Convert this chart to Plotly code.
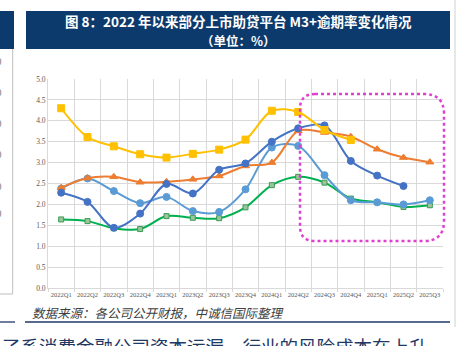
import plotly.graph_objects as go

categories = ["2022Q1", "2022Q2", "2022Q3", "2022Q4", "2023Q1", "2023Q2", "2023Q3", "2023Q4",
              "2024Q1", "2024Q2", "2024Q3", "2024Q4", "2025Q1", "2025Q2", "2025Q3"]
yellow_vals = [4.30, 3.61, 3.39, 3.20, 3.12, 3.21, 3.31, 3.55, 4.24, 4.21, 3.78, 3.54, None, None, None]
orange_vals = [2.40, 2.63, 2.66, 2.53, 2.54, 2.60, 2.68, 2.92, 3.00, 3.76, 3.72, 3.62, 3.32, 3.12, 3.01]
darkblue_vals = [2.28, 2.06, 1.44, 1.78, 2.49, 2.26, 2.83, 2.98, 3.50, 3.82, 3.89, 3.04, 2.69, 2.44, None]
lightblue_vals = [2.38, 2.62, 2.32, 2.03, 2.18, 1.84, 1.82, 2.36, 3.36, 3.40, 2.70, 2.10, 2.05, 2.00, 2.10]
green_vals = [1.64, 1.60, 1.43, 1.41, 1.72, 1.68, 1.67, 1.93, 2.46, 2.66, 2.52, 2.14, 2.05, 1.94, 1.98]
y_ticks = [0.0, 0.5, 1.0, 1.5, 2.0, 2.5, 3.0, 3.5, 4.0, 4.5, 5.0]

W, H = 464, 346
L, R, T, B = 48, 443, 79, 288


def xp(px):
    return (px - L) / (R - L)


def yp(py):
    return (B - py) / (B - T)


fig = go.Figure()

series = [
    (green_vals, "#00B050", "square", 5, "#9DC59A", "#3A9A55"),
    (lightblue_vals, "#5B9BD5", "circle", 7, "#5B9BD5", "#5B9BD5"),
    (orange_vals, "#ED7D31", "triangle-up", 7, "#ED7D31", "#ED7D31"),
    (darkblue_vals, "#4472C4", "circle", 7, "#4472C4", "#4472C4"),
    (yellow_vals, "#FFC000", "square", 7, "#FFC000", "#FFC000"),
]
for vals, col, sym, sz, mfill, mline in series:
    fig.add_trace(go.Scatter(
        x=categories, y=vals, mode="lines+markers",
        line=dict(color=col, width=2, shape="spline", smoothing=0.9),
        marker=dict(symbol=sym, size=sz, color=mfill, line=dict(color=mline, width=1)),
        connectgaps=False, showlegend=False, hoverinfo="skip"))

navy = "#0D3A6C"
shapes = []
shapes.append(dict(type="rect", xref="paper", yref="paper", x0=xp(26), x1=xp(450), y0=yp(11), y1=yp(49),
                   fillcolor=navy, line=dict(width=0), layer="below"))
shapes.append(dict(type="rect", xref="paper", yref="paper", x0=xp(-2), x1=xp(14), y0=yp(11), y1=yp(49),
                   fillcolor=navy, line=dict(width=0), layer="below"))
shapes.append(dict(type="line", xref="paper", yref="paper", x0=xp(12.7), x1=xp(12.7), y0=yp(49), y1=yp(294),
                   line=dict(color="#BFBFBF", width=1)))
shapes.append(dict(type="line", xref="paper", yref="paper", x0=xp(0), x1=xp(12.7), y0=yp(294), y1=yp(294),
                   line=dict(color="#BFBFBF", width=1)))
shapes.append(dict(type="line", xref="paper", yref="paper", x0=xp(455), x1=xp(455), y0=yp(0), y1=yp(327),
                   line=dict(color="#D0D0D0", width=1)))
shapes.append(dict(type="line", xref="paper", yref="paper", x0=xp(0), x1=xp(15), y0=yp(322), y1=yp(322),
                   line=dict(color="#1F3864", width=1.3)))
shapes.append(dict(type="line", xref="paper", yref="paper", x0=xp(25), x1=xp(450), y0=yp(322), y1=yp(322),
                   line=dict(color="#1F3864", width=1.3)))

bx0, bx1, by0, by1 = 300, 444, 94, 241
rl, rr = 15, 20


def P(x, y):
    return f"{xp(x):.5f},{yp(y):.5f}"


path = (f"M {P(bx0 + rl, by0)} L {P(bx1 - rr, by0)} Q {P(bx1, by0)} {P(bx1, by0 + rr)} "
        f"L {P(bx1, by1 - rr)} Q {P(bx1, by1)} {P(bx1 - rr, by1)} "
        f"L {P(bx0 + rl, by1)} Q {P(bx0, by1)} {P(bx0, by1 - rl)} "
        f"L {P(bx0, by0 + rl)} Q {P(bx0, by0)} {P(bx0 + rl, by0)} Z")
shapes.append(dict(type="path", xref="paper", yref="paper", path=path,
                   line=dict(color="#E040D0", width=2.5, dash="dot"), layer="above"))

annotations = [
    dict(text="<b>图 8：2022 年以来部分上市助贷平台 M3+逾期率变化情况</b>", xref="paper", yref="paper",
         x=xp(238), y=yp(21), xanchor="center", yanchor="middle", showarrow=False, borderpad=0,
         font=dict(family="Noto Sans CJK SC", size=13.5, color="white")),
    dict(text="<b>（单位：%）</b>", xref="paper", yref="paper",
         x=xp(238), y=yp(40.5), xanchor="center", yanchor="middle", showarrow=False, borderpad=0,
         font=dict(family="Noto Sans CJK SC", size=12.5, color="white")),
    dict(text="数据来源：各公司公开财报，中诚信国际整理", xref="paper", yref="paper",
         x=xp(30), y=yp(312), xanchor="left", yanchor="middle", showarrow=False,
         font=dict(family="Noto Sans CJK SC", size=12.5, color="#404040", style="italic")),
    dict(text="了系消费金融公司资本运漏，行业的风险成本在上升", xref="paper", yref="paper",
         x=xp(0), y=yp(331), xanchor="left", yanchor="top", showarrow=False,
         font=dict(family="Noto Sans CJK SC", size=18.5, color="#1F3864")),
]
for lab, py in zip(["5.0", "4.0", "3.0", "2.0", "1.0", "0.0"], [62, 92, 123, 154, 186, 214]):
    annotations.append(dict(text=lab, xref="paper", yref="paper", x=xp(4), y=yp(py),
                            xanchor="right", yanchor="middle", showarrow=False,
                            font=dict(family="Liberation Serif", size=10, color="#808080")))

fig.update_layout(
    width=W, height=H, autosize=False,
    margin=dict(l=L, r=W - R, t=T, b=H - B),
    paper_bgcolor="white", plot_bgcolor="white",
    shapes=shapes, annotations=annotations,
    xaxis=dict(type="category", categoryorder="array", categoryarray=categories,
               tickson="boundaries", showgrid=True, gridcolor="#D9D9D9", gridwidth=1,
               ticks="outside", ticklen=3, tickcolor="#D9D9D9",
               showline=True, linecolor="#D9D9D9", linewidth=1,
               tickfont=dict(family="Liberation Serif", size=6.5, color="#595959"),
               tickangle=0, range=[-0.5, 14.5], fixedrange=True),
    yaxis=dict(range=[0, 5], tickvals=y_ticks, ticktext=[f"{v:.1f}" for v in y_ticks],
               showgrid=True, gridcolor="#D9D9D9", gridwidth=1, zeroline=False,
               showline=True, linecolor="#D9D9D9", linewidth=1,
               ticks="", tickfont=dict(family="Liberation Serif", size=7.5, color="#595959"),
               fixedrange=True),
)

fig.write_html("out.html")
